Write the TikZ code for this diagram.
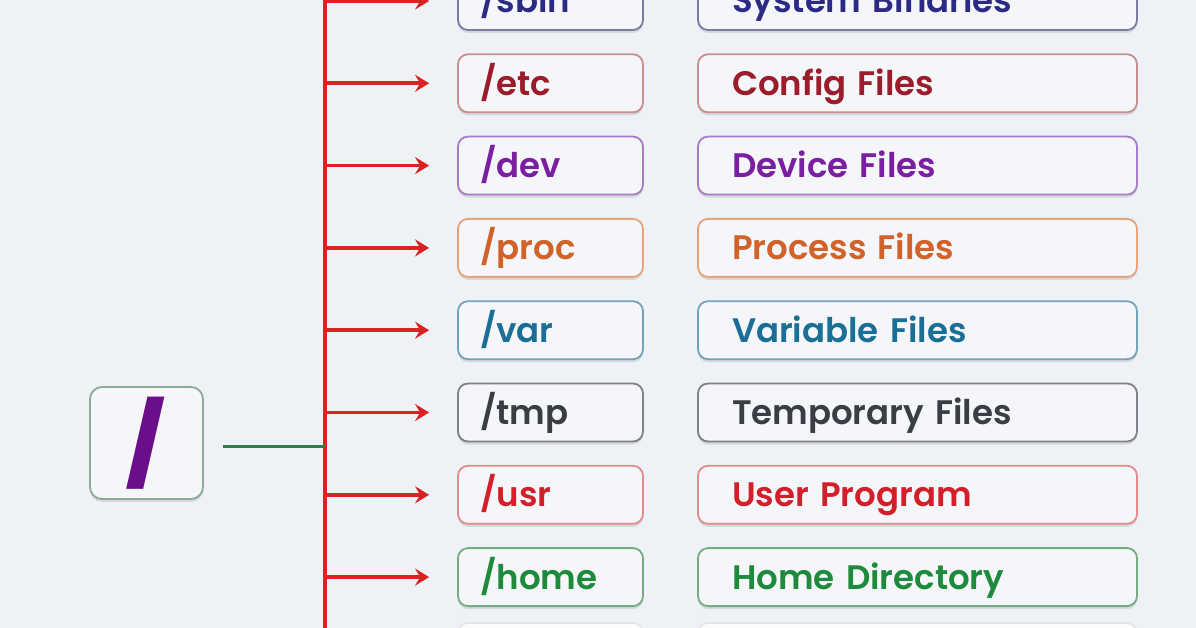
\documentclass[tikz,border=0pt]{standalone}
\usepackage{fontspec}
\setmainfont{Poppins}[BoldFont={Poppins SemiBold}]
\newfontfamily\popblack{Poppins Black}
\usetikzlibrary{arrows.meta,shadows}
\definecolor{bg}{HTML}{EEF1F5}
\definecolor{boxfill}{HTML}{F4F6F9}
\definecolor{trunk}{HTML}{D92222}
\definecolor{rootline}{HTML}{2E7D4A}
\definecolor{rootborder}{HTML}{8DAA98}
\definecolor{slash}{HTML}{6A0E8A}
\definecolor{cSbin}{HTML}{2B2A85}\definecolor{bSbin}{HTML}{7C7BA6}
\definecolor{cEtc}{HTML}{9B1C2A}\definecolor{bEtc}{HTML}{C98E8E}
\definecolor{cDev}{HTML}{7A1FA2}\definecolor{bDev}{HTML}{A77CC4}
\definecolor{cProc}{HTML}{D0622A}\definecolor{bProc}{HTML}{E6A47C}
\definecolor{cVar}{HTML}{1B6F96}\definecolor{bVar}{HTML}{71A3BA}
\definecolor{cTmp}{HTML}{3A3D44}\definecolor{bTmp}{HTML}{7E8188}
\definecolor{cUsr}{HTML}{D41F2A}\definecolor{bUsr}{HTML}{E38A8A}
\definecolor{cHome}{HTML}{1E8A3C}\definecolor{bHome}{HTML}{74AC82}
\tikzset{
  x=1pt,y=-1pt,
  boxbase/.style={draw, line width=1.8pt, rounded corners=10pt, fill=boxfill,
    minimum height=58pt, inner ysep=0pt, align=left, anchor=center,
    font=\fontsize{34}{38}\selectfont\bfseries,
    text height=24pt, text depth=0pt,
    drop shadow={shadow xshift=0pt, shadow yshift=-3pt, opacity=0.10, fill=black}},
  dirbox/.style={boxbase, inner xsep=22pt, text width=141pt},
  descbox/.style={boxbase, inner xsep=34pt, text width=371pt},
  branch/.style={draw=trunk, line width=3.6pt, shorten >=28pt,
    -{Stealth[length=14pt,width=17pt,inset=5pt]}},
}
\begin{document}
\begin{tikzpicture}
\useasboundingbox (0,0) rectangle (1196,628);
\fill[bg] (0,0) rectangle (1196,628);

% trunk
\coordinate (ttop) at (325,-10);
\coordinate (tbot) at (325,640);
\coordinate (junc) at (325,446);
\draw[trunk, line width=3.2pt] (ttop) -- (tbot);

% root
\node[draw=rootborder, line width=1.8pt, rounded corners=12pt, fill=boxfill,
  minimum width=113pt, minimum height=112pt, inner sep=0pt,
  drop shadow={shadow xshift=0pt, shadow yshift=-3pt, opacity=0.10, fill=black}]
  (root) at (146.5,443) {};
\node[text=slash, font=\fontsize{80}{80}\popblack, inner sep=0pt]
  (rootslash) at (145,443) {/};
\draw[rootline, line width=3pt, shorten <=19pt] (root.east |- junc) -- (junc);

% rows
\foreach \i/\name/\dir/\desc/\tc/\bc in {
  0/sbin/{/sbin}/{System Binaries}/cSbin/bSbin,
  1/etc/{/etc}/{Config Files}/cEtc/bEtc,
  2/dev/{/dev}/{Device Files}/cDev/bDev,
  3/proc/{/proc}/{Process Files}/cProc/bProc,
  4/var/{/var}/{Variable Files}/cVar/bVar,
  5/tmp/{/tmp}/{Temporary Files}/cTmp/bTmp,
  6/usr/{/usr}/{User Program}/cUsr/bUsr,
  7/home/{/home}/{Home Directory}/cHome/bHome}{
  \pgfmathsetmacro{\yy}{1+82.3*\i}
  \coordinate (t\name) at (325,\yy);
  \node[dirbox, draw=\bc, text=\tc] (d\name) at (550.5,\yy) {\dir};
  \node[descbox, draw=\bc, text=\tc] (e\name) at (917.5,\yy) {\desc};
  \draw[branch] (t\name) -- (d\name.west);
}

% next row, only its top edge is inside the frame
\node[dirbox, draw=white!80!gray, fill=white!70!boxfill] (dnext) at (550.5,652) {};
\node[descbox, draw=white!80!gray, fill=white!70!boxfill] (enext) at (917.5,652) {};
\end{tikzpicture}
\end{document}
